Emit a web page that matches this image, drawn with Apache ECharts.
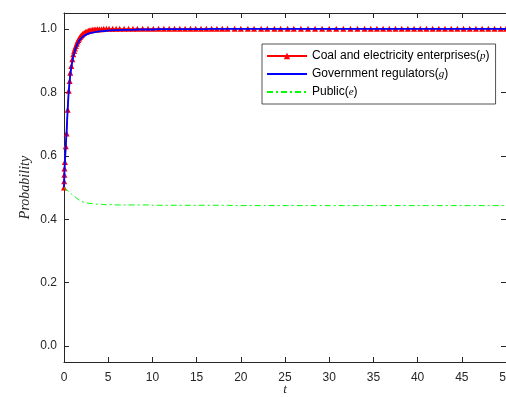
<!DOCTYPE html>
<html>
<head>
<meta charset="utf-8">
<script src="https://cdn.jsdelivr.net/npm/echarts@6/dist/echarts.min.js"></script>
<style>html,body{margin:0;padding:0;background:#fff}#c{width:506px;height:397px}</style>
</head>
<body>
<div id="c"></div>
<script>
// time points (solver steps)
const tVals = [0,0.02,0.04,0.06,0.1,0.2,0.3,0.42,0.53,0.64,0.71,0.83,0.94,1.05,1.15,1.24,1.34,1.44,1.53,1.62,1.72,1.82,1.92,2.02,2.15,2.3,2.45,2.6,2.75,2.9,3.05,3.2,3.4,3.6,3.8,4.0,4.25,4.5,4.8,5.1,5.5,5.9,6.3,6.8,7.3,7.8,8.3,8.9,9.5,10.1,10.7,11.3,11.9,12.5,13.1,13.7,14.3,14.9,15.5,16.1,16.7,17.3,17.9,18.5,19.3,20.0,20.8,21.5,22.3,23.0,23.8,24.5,25.3,26.0,26.8,27.6,28.4,29.2,30.0,30.8,31.6,32.4,33.2,34.0,34.7,35.4,36.1,36.8,37.5,38.2,38.9,39.6,40.3,41.0,41.7,42.4,43.1,43.8,44.5,45.2,45.9,46.6,47.3,48.0,48.7,49.4,50.0];
// Coal and electricity enterprises (p)
const pVals = [0.50,0.52,0.54,0.56,0.58,0.63,0.67,0.745,0.805,0.836,0.862,0.883,0.904,0.92,0.93,0.938,0.946,0.953,0.96,0.965,0.97,0.974,0.978,0.981,0.985,0.988,0.99,0.992,0.994,0.995,0.996,0.997,0.998,0.998,0.999,0.999,0.999,1.0,1.0,1.0,1.0,1.0,1.0,1.0,1.0,1.0,1.0,1.0,1.0,1.0,1.0,1.0,1.0,1.0,1.0,1.0,1.0,1.0,1.0,1.0,1.0,1.0,1.0,1.0,1.0,1.0,1.0,1.0,1.0,1.0,1.0,1.0,1.0,1.0,1.0,1.0,1.0,1.0,1.0,1.0,1.0,1.0,1.0,1.0,1.0,1.0,1.0,1.0,1.0,1.0,1.0,1.0,1.0,1.0,1.0,1.0,1.0,1.0,1.0,1.0,1.0,1.0,1.0,1.0,1.0,1.0,1.0];
// Government regulators (g)
const gVals = [0.50,0.52,0.54,0.56,0.58,0.63,0.68,0.75,0.80,0.835,0.855,0.878,0.897,0.912,0.923,0.932,0.940,0.947,0.953,0.958,0.963,0.967,0.970,0.973,0.976,0.979,0.981,0.983,0.985,0.986,0.987,0.988,0.989,0.990,0.991,0.992,0.993,0.993,0.994,0.995,0.995,0.996,0.996,0.997,0.997,0.997,0.998,0.998,0.998,0.998,0.999,0.999,0.999,0.999,0.999,0.999,0.999,0.999,0.999,0.999,1.0,1.0,1.0,1.0,1.0,1.0,1.0,1.0,1.0,1.0,1.0,1.0,1.0,1.0,1.0,1.0,1.0,1.0,1.0,1.0,1.0,1.0,1.0,1.0,1.0,1.0,1.0,1.0,1.0,1.0,1.0,1.0,1.0,1.0,1.0,1.0,1.0,1.0,1.0,1.0,1.0,1.0,1.0,1.0,1.0,1.0,1.0];
// Public (e)
const eVals = [0.50,0.499,0.498,0.497,0.496,0.494,0.492,0.49,0.488,0.485,0.483,0.48,0.478,0.475,0.473,0.47,0.468,0.466,0.464,0.461,0.46,0.458,0.457,0.456,0.455,0.453,0.452,0.451,0.45,0.45,0.449,0.449,0.448,0.448,0.447,0.447,0.447,0.446,0.446,0.446,0.446,0.445,0.445,0.445,0.445,0.445,0.445,0.445,0.445,0.444,0.444,0.444,0.444,0.444,0.444,0.444,0.444,0.444,0.444,0.444,0.444,0.444,0.444,0.444,0.443,0.443,0.443,0.443,0.443,0.443,0.443,0.443,0.443,0.443,0.443,0.443,0.443,0.443,0.443,0.443,0.443,0.443,0.443,0.443,0.443,0.443,0.443,0.443,0.443,0.443,0.443,0.443,0.443,0.443,0.443,0.443,0.443,0.443,0.443,0.443,0.443,0.443,0.443,0.443,0.443,0.443,0.443];
const yTicks = [0,0.2,0.4,0.6,0.8,1.0];
const seriesNames = ['Coal and electricity enterprises(p)','Government regulators(g)','Public(e)'];
const seriesVars = ['p','g','e'];

const zip = (t, v) => t.map((x, i) => [x, v[i]]);
const axisCol = '#262626';
const chart = echarts.init(document.getElementById('c'), null, {renderer: 'canvas'});
chart.setOption({
  animation: false,
  backgroundColor: '#fff',
  grid: {left: 64, right: 0, top: 13, bottom: 35, containLabel: false, outerBoundsMode: 'none'},
  legend: {
    orient: 'vertical', left: 262, top: 44,
    itemWidth: 40, itemHeight: 8, itemGap: 6,
    padding: [6, 6, 6, 4],
    borderColor: axisCol, borderWidth: 0.8, backgroundColor: '#fff',
    formatter: function (name) {
      const i = seriesNames.indexOf(name);
      const base = name.slice(0, name.length - 3);
      return '{n|' + base + '(}{i|' + seriesVars[i] + '}{n|)}';
    },
    textStyle: {
      color: '#000', fontFamily: 'Liberation Sans', fontSize: 12,
      rich: {
        n: {fontFamily: 'Liberation Sans', fontSize: 12, color: '#000'},
        i: {fontFamily: 'Liberation Serif', fontStyle: 'italic', fontSize: 11, color: '#000'}
      }
    },
    data: [
      {name: seriesNames[0]},
      {name: seriesNames[1], itemStyle: {opacity: 0}},
      {name: seriesNames[2], itemStyle: {opacity: 0}}
    ]
  },
  xAxis: [{
    type: 'value', min: 0, max: 50, interval: 5, position: 'bottom',
    name: 't', nameLocation: 'middle', nameGap: 21, nameMoveOverlap: false,
    nameTextStyle: {fontFamily: 'Liberation Serif', fontStyle: 'italic', fontSize: 13, color: axisCol},
    axisLine: {show: true, onZero: false, lineStyle: {color: axisCol, width: 1}},
    axisTick: {show: true, inside: true, length: 5, lineStyle: {color: axisCol}},
    axisLabel: {fontFamily: 'Liberation Sans', fontSize: 12, color: axisCol, margin: 10},
    splitLine: {show: false}
  }, {
    type: 'value', min: 0, max: 50, interval: 5, position: 'top',
    axisLine: {show: true, onZero: false, lineStyle: {color: axisCol, width: 1}},
    axisTick: {show: true, inside: true, length: 5, lineStyle: {color: axisCol}},
    axisLabel: {show: false}, splitLine: {show: false}
  }],
  yAxis: [{
    type: 'value', min: -0.05, max: 1.05, position: 'left',
    name: 'Probability', nameLocation: 'middle', nameGap: 32, nameRotate: 90, nameMoveOverlap: false,
    nameTextStyle: {fontFamily: 'Liberation Serif', fontStyle: 'italic', fontSize: 14, color: axisCol},
    axisLine: {show: true, onZero: false, lineStyle: {color: axisCol, width: 1}},
    axisTick: {show: true, inside: true, length: 5, customValues: yTicks, lineStyle: {color: axisCol}},
    axisLabel: {fontFamily: 'Liberation Sans', fontSize: 12, color: axisCol, margin: 7, customValues: yTicks,
      formatter: v => v.toFixed(1)},
    splitLine: {show: false}
  }, {
    type: 'value', min: -0.05, max: 1.05, position: 'right',
    axisLine: {show: true, onZero: false, lineStyle: {color: axisCol, width: 1}},
    axisTick: {show: true, inside: true, length: 5, customValues: yTicks, lineStyle: {color: axisCol}},
    axisLabel: {show: false}, splitLine: {show: false}
  }],
  series: [{
    name: seriesNames[0], type: 'line', data: zip(tVals, pVals),
    symbol: 'triangle', symbolSize: 6, showSymbol: true, showAllSymbol: true,
    itemStyle: {color: '#ff0000'}, lineStyle: {color: '#ff0000', width: 1.2}, z: 2
  }, {
    name: seriesNames[1], type: 'line', data: zip(tVals, gVals),
    symbol: 'none', lineStyle: {color: '#0000ff', width: 1.8}, itemStyle: {color: '#0000ff'}, z: 3
  }, {
    name: seriesNames[2], type: 'line', data: zip(tVals, eVals),
    symbol: 'none', lineStyle: {color: '#00ff00', width: 1, type: [6, 3, 2, 3]}, itemStyle: {color: '#00ff00'}, z: 4
  }]
});
</script>
</body>
</html>
